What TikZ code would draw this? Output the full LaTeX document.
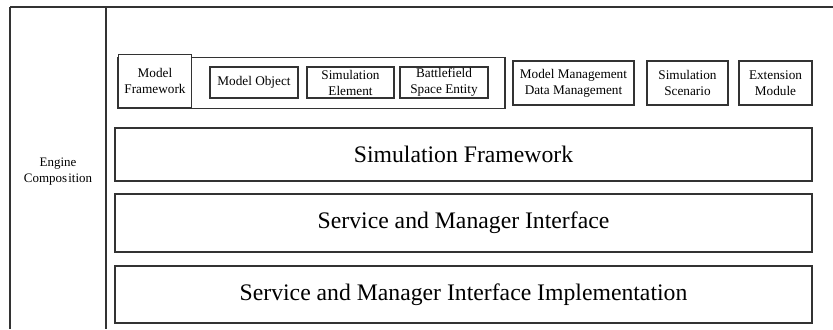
\documentclass[tikz,border=0pt]{standalone}
\usepackage{fontspec}
\setmainfont{Liberation Serif}
\begin{document}
\begin{tikzpicture}[x=1bp,y=-1bp,
  frame/.style={draw=black!80,line width=1.1bp},
  smallbox/.style={frame,fill=white,align=center,font=\fontsize{13.3}{16}\selectfont,inner sep=0pt},
  layer/.style={frame,align=center,font=\fontsize{23.8}{26}\selectfont,inner sep=0pt}]
\useasboundingbox (0,0) rectangle (833,329);
% top rule and the left column
\draw[frame,line width=1.6bp] (10,7) -- (833,7);
\draw[frame] (10,7) -- (10,329);
\draw[frame] (106,7) -- (106,329);
\node[font=\fontsize{13}{16}\selectfont,align=center] (engine) at (58,172) {Engine\\Compos\hspace{1.2bp}ition};
% model framework group
\node[frame,minimum width=387bp,minimum height=51bp,inner sep=0pt] (group) at (311.5,83) {};
\node[smallbox,line width=1.4bp,minimum width=73bp,minimum height=53bp] (mf) at (155,81) {Model\\Framework};
\node[smallbox,minimum width=88bp,minimum height=31bp] (mo) at (254,82.5) {Model Object};
\node[smallbox,minimum width=87bp,minimum height=31bp] (se) at (350.5,82.5) {Simulation\\Element};
\node[smallbox,minimum width=88bp,minimum height=31bp] (bse) at (444,82.5) {Battlefield\\Space Entity};
% side modules
\node[smallbox,minimum width=121bp,minimum height=44bp] (mm) at (573.5,83) {Model Management\\Data Management};
\node[smallbox,minimum width=81bp,minimum height=44bp] (ss) at (687.5,83) {Simulation\\Scenario};
\node[smallbox,minimum width=73bp,minimum height=44bp] (em) at (775.5,83) {Extension\\Module};
% layers
\node[layer,minimum width=697bp,minimum height=53bp] (sf) at (463.5,154.5) {Simulation Framework};
\node[layer,minimum width=697bp,minimum height=58bp] (smi) at (463.5,223) {Service and Manager Interface};
\node[layer,minimum width=697bp,minimum height=57bp] (smii) at (463.5,294.5) {Service and Manager Interface Implementation};
\end{tikzpicture}
\end{document}
